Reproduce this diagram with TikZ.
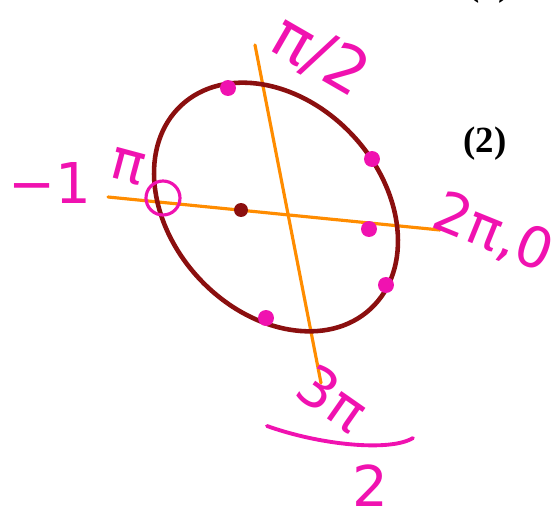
\documentclass[tikz,border=0pt]{standalone}
\usepackage{fontspec}
\newfontfamily\labelserif{Liberation Serif}
\newfontfamily\handfont{DejaVu Sans}
\usetikzlibrary{positioning,calc}
\definecolor{inkred}{HTML}{8B0F0F}
\definecolor{inkorange}{HTML}{FF8C00}
\definecolor{inkpink}{HTML}{F012B0}

\begin{document}
\begin{tikzpicture}[
    x=0.02cm,y=-0.02cm,
    curve/.style  = {inkred, line width=2.6pt},
    axis/.style   = {inkorange, line width=1.8pt, line cap=round},
    dotpt/.style  = {circle, fill=inkpink, inner sep=0pt, minimum size=0.32cm},
    centre/.style = {circle, fill=inkred, inner sep=0pt, minimum size=0.28cm},
    hand/.style   = {text=inkpink, inner sep=0pt,
                     font=\handfont\fontsize{32}{34}\selectfont},
    tag/.style    = {font=\labelserif\bfseries\fontsize{21}{22}\selectfont},
  ]
  \useasboundingbox (0,0) rectangle (556,507);

  % the two axes
  \coordinate (hl) at (108,197);
  \coordinate (hr) at (440,230);
  \coordinate (vt) at (255,45);
  \coordinate (vb) at (321,383);
  \draw[axis] (hl) -- (hr);
  \draw[axis] (vt) -- (vb);

  % the ellipse
  \coordinate (c) at (276,207);
  \draw[curve,rotate around={-47:(c)}] (c) ellipse [x radius=2.78cm, y radius=2.1cm];

  % points on it
  \node[dotpt] (p1) at (228,88)  {};
  \node[dotpt] (p2) at (372,159) {};
  \node[dotpt] (p3) at (369,229) {};
  \node[dotpt] (p4) at (386,285) {};
  \node[dotpt] (p5) at (266,318) {};
  \node[centre] (m) at (241,210) {};
  \draw[inkpink, line width=1.8pt] (163,198) circle (0.34cm);

  % labels
  \node[hand,rotate=-30,font=\handfont\fontsize{36}{38}\selectfont]
       (lt) at (320,56) {π/2};
  \node[hand]            (ln) at (50,183)  {−1};
  \node[hand,rotate=-15] (lp) at (128,167) {π};
  \node[hand,rotate=-22,anchor=west] (lr) at (436,210) {2π,0};
  \node[hand,rotate=-35] (lb) at (333,398) {3π};
  \draw[inkpink, line width=2.2pt, line cap=round]
       (267,426) .. controls (320,445) and (390,452) .. (413,438);
  \node[hand] (ld) at (370,486) {2};

  \node[tag] (n2) at (485,144) {(2)};
  \node[tag] (n1) at (489,-13) {(1)};
\end{tikzpicture}
\end{document}
